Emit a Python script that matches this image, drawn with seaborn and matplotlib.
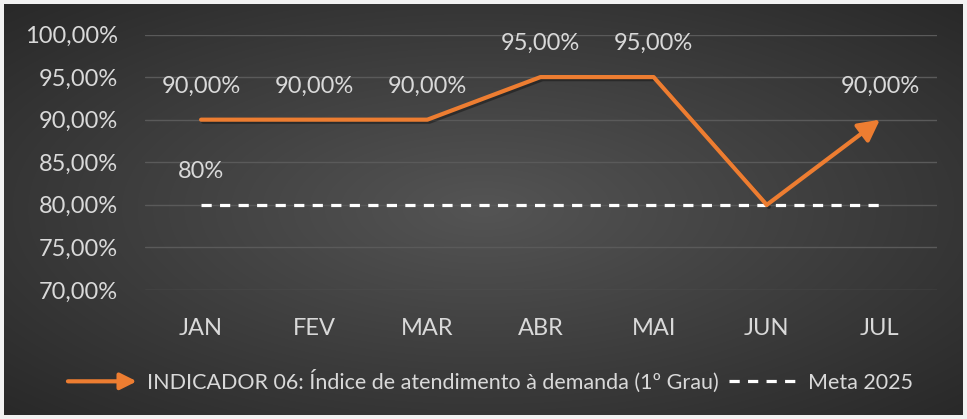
import numpy as np
import pandas as pd
import matplotlib
matplotlib.use("Agg")
import matplotlib.pyplot as plt
import seaborn as sns
from matplotlib.patches import FancyArrowPatch
from matplotlib.legend_handler import HandlerPatch
from matplotlib.lines import Line2D
import matplotlib.patheffects as pe

months = ["JAN", "FEV", "MAR", "ABR", "MAI", "JUN", "JUL"]
indicador = [0.90, 0.90, 0.90, 0.95, 0.95, 0.80, 0.90]
meta = [0.80, 0.80, 0.80, 0.80, 0.80, 0.80, 0.80]
show_label = [True, True, True, True, True, False, True]
series_name = "INDICADOR 06: Índice de atendimento à demanda (1º Grau)"
meta_name = "Meta 2025"
yticks = [0.70, 0.75, 0.80, 0.85, 0.90, 0.95, 1.00]

sns.set_theme(style="dark")
plt.rcParams["font.family"] = ["Lato", "DejaVu Sans"]

ORANGE = "#ED7D31"
TXT = "#D9D9D9"
FS = 17

fig = plt.figure(figsize=(9.67, 4.19), dpi=100)
fig.patch.set_facecolor("#F2F2F2")

# gradient background
bg = fig.add_axes([4/967, 4/419, 959/967, 411/419], zorder=0)
yy, xx = np.mgrid[-1:1:300j, -1:1:600j]
r = np.sqrt(xx**2 + yy**2) / np.sqrt(2)
g = 0.33 - 0.17 * r
img = np.dstack([g, g, g])
bg.imshow(img, aspect="auto", extent=[0, 1, 0, 1], interpolation="bilinear")
bg.axis("off")

ax = fig.add_axes([144.5/967, 1 - 290/419, 792/967, (290 - 34.5)/419], zorder=1)
ax.patch.set_alpha(0)

df = pd.DataFrame({"mes": months, "ind": indicador, "meta": meta})
x = np.arange(len(months))
df["x"] = x

DASH = (0, (3.2, 2.6))
sns.lineplot(data=df, x="x", y="meta", ax=ax, color="white", lw=2.3,
             linestyle=DASH, zorder=3)
shadow = [pe.SimpleLineShadow(offset=(1.5, -1.5), alpha=0.35, shadow_color="black"), pe.Normal()]
sns.lineplot(data=df.iloc[:-1], x="x", y="ind", ax=ax, color=ORANGE, lw=3,
             zorder=4, path_effects=shadow)
# last segment as arrow
ax.annotate("", xy=(x[-1], indicador[-1]), xytext=(x[-2], indicador[-2]),
            arrowprops=dict(arrowstyle="-|>,head_length=0.8,head_width=0.42",
                            color=ORANGE, lw=3, shrinkA=0, shrinkB=0,
                            mutation_scale=16),
            zorder=4)

def fmt(v):
    return f"{v*100:.2f}".replace(".", ",") + "%"

for xi, v, s in zip(x, indicador, show_label):
    if s:
        ax.annotate(fmt(v), xy=(xi, v), xytext=(0, 24), textcoords="offset points",
                    ha="center", va="center", color=TXT, fontsize=FS)
ax.annotate(f"{meta[0]*100:.0f}%", xy=(x[0], meta[0]), xytext=(0, 24),
            textcoords="offset points", ha="center", va="center", color=TXT, fontsize=FS)

ax.set_xlim(-0.5, len(months) - 0.5)
ax.set_ylim(0.70, 1.00)
ax.set_yticks(yticks)
ax.set_yticklabels([fmt(v) for v in yticks])
ax.set_xticks(x)
ax.set_xticklabels(months)
ax.tick_params(axis="y", colors=TXT, labelsize=FS, pad=19, length=0)
ax.tick_params(axis="x", colors=TXT, labelsize=FS, pad=20, length=0)
ax.set_xlabel("")
ax.set_ylabel("")
ax.grid(axis="y", color="#5A5A5A", lw=1)
ax.grid(axis="x", visible=False)
for sp in ax.spines.values():
    sp.set_visible(False)

class HandlerArrow(HandlerPatch):
    def create_artists(self, legend, orig_handle, xdescent, ydescent, width, height, fontsize, trans):
        p = FancyArrowPatch((-xdescent, height/2 - ydescent), (width - xdescent, height/2 - ydescent),
                            arrowstyle="-|>,head_length=0.7,head_width=0.35", mutation_scale=14,
                            color=ORANGE, lw=3, shrinkA=0, shrinkB=0)
        p.set_transform(trans)
        return [p]

arrow_handle = FancyArrowPatch((0, 0), (1, 0))
meta_handle = Line2D([], [], color="white", lw=2.3, linestyle=DASH)
leg = fig.legend([arrow_handle, meta_handle], [series_name, meta_name],
                 handler_map={FancyArrowPatch: HandlerArrow()},
                 loc="center", bbox_to_anchor=(0.507, 0.09), ncol=2, frameon=False,
                 fontsize=15.5, handlelength=3.2, handletextpad=0.45, columnspacing=0.5)
for t in leg.get_texts():
    t.set_color(TXT)

fig.savefig("out.png", dpi=100, facecolor=fig.get_facecolor())
